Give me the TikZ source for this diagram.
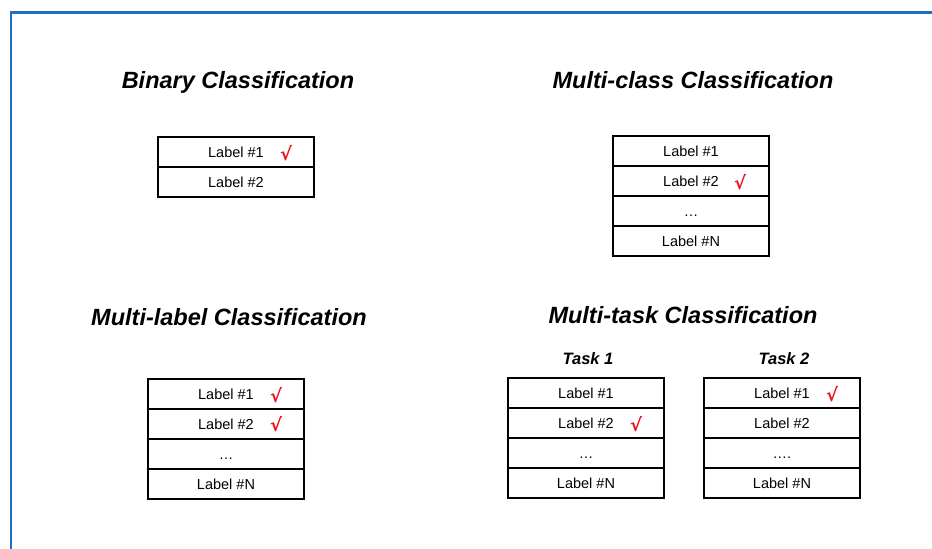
\documentclass[tikz,border=0pt]{standalone}
\usepackage{fontspec}
\setmainfont{Liberation Sans}
\newfontfamily\chkfont{DejaVu Sans}
\definecolor{frameblue}{HTML}{1F6FC6}
\definecolor{chkred}{HTML}{E8141B}
\begin{document}
\begin{tikzpicture}[x=1pt,y=-1pt,
  rowbox/.style={draw=black,line width=1.3pt,minimum width=156pt,minimum height=30pt,inner sep=0pt,outer sep=0pt,text height=10.5pt,text depth=0.5pt,font=\fontsize{14.5}{16}\selectfont},
  titletext/.style={font=\fontsize{23.5}{26}\selectfont\bfseries\itshape,inner sep=0pt},
  tasktext/.style={font=\fontsize{16.5}{19}\selectfont\bfseries\itshape,inner sep=0pt},
  chk/.style={text=chkred,font=\chkfont\fontsize{18}{20}\selectfont\bfseries,inner sep=0pt}]
\useasboundingbox (0,0) rectangle (932,549);
% frame
\draw[frameblue,line width=2.8pt] (11,549) -- (11,12.5) -- (932,12.5);

% Binary
\node[titletext] (tb) at (238,82) {Binary Classification};
\node[rowbox] (b1) at (236,152) {Label \#1};
\node[rowbox] (b2) at (236,182) {Label \#2};
\node[chk] (cb) at (286,153) {√};

% Multi-class
\node[titletext] (tm) at (693,80) {Multi-class Classification};
\node[rowbox] (m1) at (691,151) {Label \#1};
\node[rowbox] (m2) at (691,181) {Label \#2};
\node[rowbox] (m3) at (691,211) {…};
\node[rowbox] (m4) at (691,241) {Label \#N};
\node[chk] (cm) at (740,182) {√};

% Multi-label
\node[titletext] (tl) at (229,317) {Multi-label Classification};
\node[rowbox] (l1) at (226,394) {Label \#1};
\node[rowbox] (l2) at (226,424) {Label \#2};
\node[rowbox] (l3) at (226,454) {…};
\node[rowbox] (l4) at (226,484) {Label \#N};
\node[chk] (cl1) at (276,395) {√};
\node[chk] (cl2) at (276,424) {√};

% Multi-task
\node[titletext] (tt) at (683,315) {Multi-task Classification};
\node[tasktext] (k1) at (588,359) {Task 1};
\node[tasktext] (k2) at (784,359) {Task 2};
\node[rowbox] (a1) at (586,393) {Label \#1};
\node[rowbox] (a2) at (586,423) {Label \#2};
\node[rowbox] (a3) at (586,453) {…};
\node[rowbox] (a4) at (586,483) {Label \#N};
\node[chk] (ca) at (636,424) {√};
\node[rowbox] (d1) at (782,393) {Label \#1};
\node[rowbox] (d2) at (782,423) {Label \#2};
\node[rowbox] (d3) at (782,453) {….};
\node[rowbox] (d4) at (782,483) {Label \#N};
\node[chk] (cd) at (832,394) {√};
\end{tikzpicture}
\end{document}
